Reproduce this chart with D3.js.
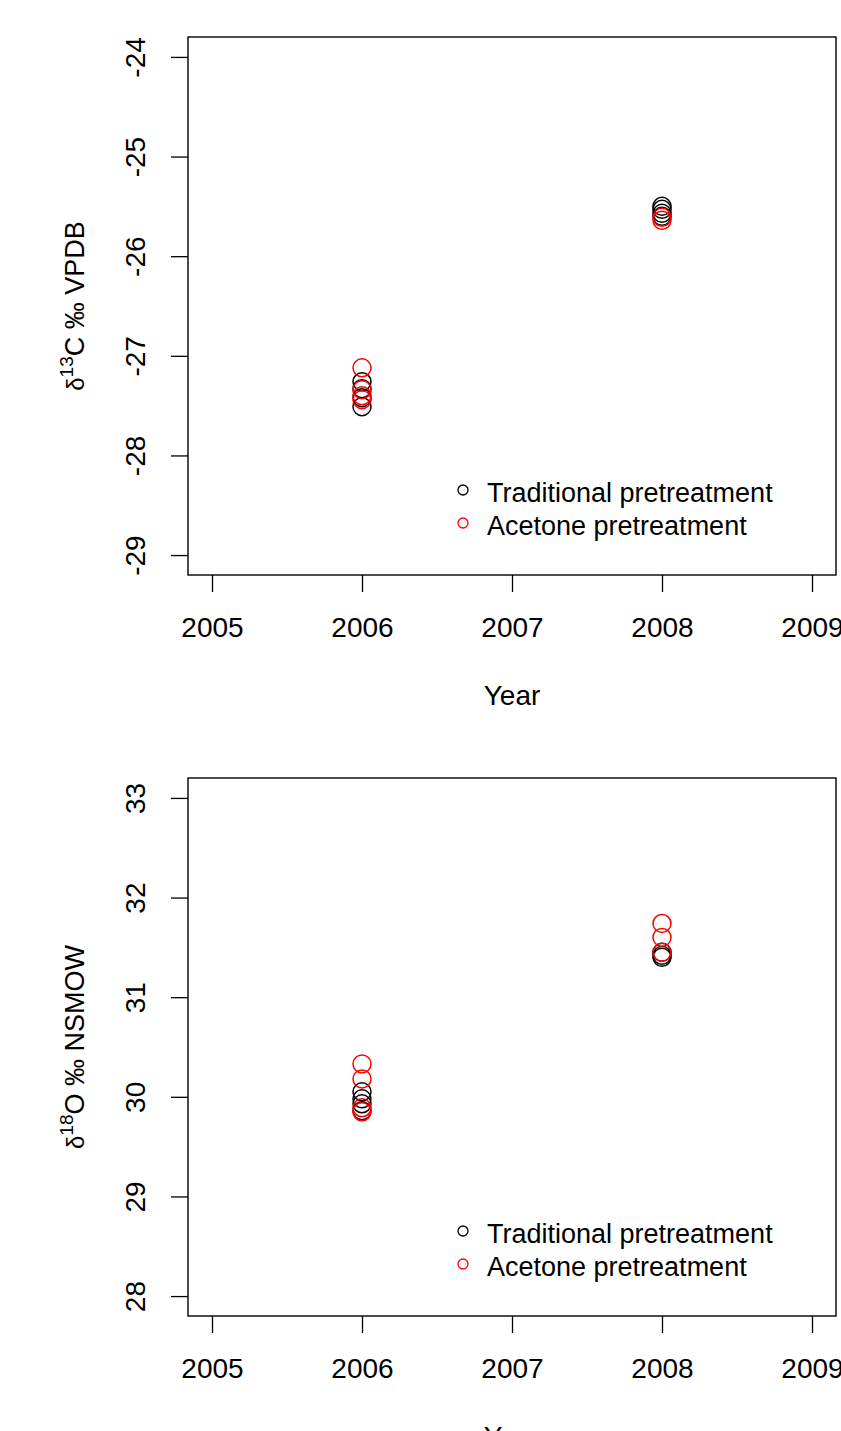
<!DOCTYPE html>
<html>
<head>
<meta charset="utf-8">
<script src="https://cdn.jsdelivr.net/npm/d3@7"></script>
<style>
  body { margin: 0; background: #fff; }
  svg text { font-family: "Liberation Sans", Arial, sans-serif; fill: #000; }
</style>
</head>
<body>
<div id="chart"></div>
<script>
const years = [2005, 2006, 2007, 2008, 2009];
const seriesNames = ["Traditional pretreatment", "Acetone pretreatment"];
const seriesColors = ["#000000", "#ff0000"];

// delta 13C (per mil VPDB)
const c13Ticks = [-29, -28, -27, -26, -25, -24];
const c13Trad = [
  { year: 2006, v: -27.26 }, { year: 2006, v: -27.33 }, { year: 2006, v: -27.42 }, { year: 2006, v: -27.51 },
  { year: 2008, v: -25.50 }, { year: 2008, v: -25.53 }, { year: 2008, v: -25.57 }, { year: 2008, v: -25.60 }
];
const c13Acet = [
  { year: 2006, v: -27.12 }, { year: 2006, v: -27.34 }, { year: 2006, v: -27.40 }, { year: 2006, v: -27.44 },
  { year: 2008, v: -25.61 }, { year: 2008, v: -25.64 }
];

// delta 18O (per mil NSMOW)
const o18Ticks = [28, 29, 30, 31, 32, 33];
const o18Trad = [
  { year: 2006, v: 30.05 }, { year: 2006, v: 29.98 }, { year: 2006, v: 29.93 }, { year: 2006, v: 29.86 },
  { year: 2008, v: 31.45 }, { year: 2008, v: 31.42 }, { year: 2008, v: 31.40 }
];
const o18Acet = [
  { year: 2006, v: 30.33 }, { year: 2006, v: 30.18 }, { year: 2006, v: 29.89 }, { year: 2006, v: 29.85 },
  { year: 2008, v: 31.74 }, { year: 2008, v: 31.60 }, { year: 2008, v: 31.45 }
];

const W = 841, H = 1431;
const box = { left: 188, right: 836, height: 538 };
const fs = 28;

const svg = d3.select("#chart").append("svg")
  .attr("width", W)
  .attr("height", H);

function drawPanel(top, yDomain, ticks, trad, acet, isoMass, element, ref) {
  const g = svg.append("g").attr("transform", `translate(0,${top})`);

  const x = d3.scaleLinear().domain([2004.84, 2009.16]).range([box.left, box.right]);
  const y = d3.scaleLinear().domain(yDomain).range([box.height, 0]);

  // x axis
  const xAxis = g.append("g")
    .attr("transform", `translate(0,${box.height})`)
    .call(d3.axisBottom(x).tickValues(years).tickFormat(d => String(d)).tickSize(17));
  xAxis.select(".domain").remove();
  xAxis.selectAll("line").attr("stroke", "#000").attr("stroke-width", 1.3);
  xAxis.selectAll("text")
    .attr("y", 62).attr("dy", null)
    .style("font-size", fs + "px");

  // y axis (plain hyphen for negatives, like the original)
  const yAxis = g.append("g")
    .attr("transform", `translate(${box.left},0)`)
    .call(d3.axisLeft(y).tickValues(ticks).tickFormat(d => String(d)).tickSize(17));
  yAxis.select(".domain").remove();
  yAxis.selectAll("line").attr("stroke", "#000").attr("stroke-width", 1.3);
  yAxis.selectAll("text")
    .attr("x", null).attr("dy", null)
    .attr("text-anchor", "middle")
    .attr("transform", "translate(-43,0) rotate(-90)")
    .style("font-size", fs + "px");

  // box
  g.append("rect")
    .attr("x", box.left)
    .attr("y", 0)
    .attr("width", box.right - box.left)
    .attr("height", box.height)
    .attr("fill", "none")
    .attr("stroke", "#000")
    .attr("stroke-width", 1.4);

  // points
  [trad, acet].forEach((pts, i) => {
    g.append("g").selectAll("circle")
      .data(pts)
      .join("circle")
        .attr("cx", d => x(d.year))
        .attr("cy", d => y(d.v))
        .attr("r", 9)
        .attr("fill", "none")
        .attr("stroke", seriesColors[i])
        .attr("stroke-width", 1.5);
  });

  // legend
  const leg = g.append("g").attr("transform", `translate(463,${box.height - 85})`);
  seriesNames.forEach((name, i) => {
    leg.append("circle")
      .attr("cx", 0)
      .attr("cy", i * 33)
      .attr("r", 5)
      .attr("fill", "none")
      .attr("stroke", seriesColors[i])
      .attr("stroke-width", 1.3);
    leg.append("text")
      .attr("x", 24)
      .attr("y", i * 33 + 12)
      .style("font-size", "27px")
      .text(name);
  });

  // x title
  g.append("text")
    .attr("x", (box.left + box.right) / 2)
    .attr("y", box.height + 130)
    .attr("text-anchor", "middle")
    .style("font-size", fs + "px")
    .text("Year");

  // y title
  const yt = g.append("text")
    .attr("text-anchor", "middle")
    .attr("transform", `translate(84,${box.height / 2}) rotate(-90)`)
    .style("font-size", "27px");
  yt.append("tspan").style("font-size", "24px").text("\u03b4");
  yt.append("tspan").attr("dy", -11).style("font-size", "19px").text(isoMass);
  yt.append("tspan").attr("dy", 11).text(element + " \u2030 " + ref);
}

drawPanel(37, [-29.2, -23.8], c13Ticks, c13Trad, c13Acet, "13", "C", "VPDB");
drawPanel(778, [27.8, 33.2], o18Ticks, o18Trad, o18Acet, "18", "O", "NSMOW");
</script>
</body>
</html>
